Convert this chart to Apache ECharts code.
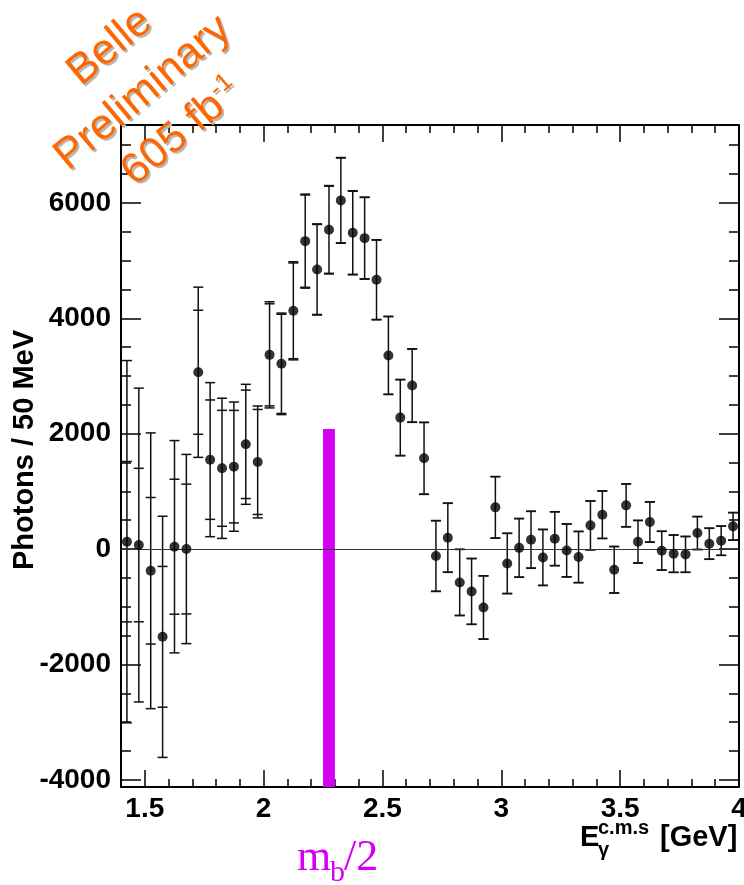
<!DOCTYPE html>
<html>
<head>
<meta charset="utf-8">
<script src="https://cdn.jsdelivr.net/npm/echarts@6.0.0/dist/echarts.min.js"></script>
<style>
  html, body { margin: 0; padding: 0; background: #fff; }
  #chart { width: 744px; height: 885px; }
</style>
</head>
<body>
<div id="chart"></div>
<script>
// bin centres, 50 MeV bins
const energy = [1.425, 1.475, 1.525, 1.575, 1.625, 1.675, 1.725, 1.775, 1.825, 1.875, 1.925, 1.975,
  2.025, 2.075, 2.125, 2.175, 2.225, 2.275, 2.325, 2.375, 2.425, 2.475, 2.525, 2.575, 2.625, 2.675,
  2.725, 2.775, 2.825, 2.875, 2.925, 2.975, 3.025, 3.075, 3.125, 3.175, 3.225, 3.275, 3.325, 3.375,
  3.425, 3.475, 3.525, 3.575, 3.625, 3.675, 3.725, 3.775, 3.825, 3.875, 3.925, 3.975];
const photons = [127, 69, -377, -1522, 40, 0, 3064, 1549, 1399, 1428, 1815, 1509,
  3366, 3210, 4129, 5337, 4846, 5534, 6043, 5482, 5389, 4667, 3356, 2278, 2833, 1572,
  -121, 196, -579, -735, -1013, 722, -250, 20, 161, -146, 179, -24, -139, 410,
  595, -359, 757, 127, 468, -29, -81, -93, 277, 92, 144, 393];
const errTotal = [3140, 2720, 2390, 2090, 1840, 1640, 1475, 1335, 1215, 1120, 1040, 970,
  920, 880, 850, 815, 790, 766, 743, 729, 711, 694, 678, 662, 637, 625,
  615, 600, 575, 572, 550, 535, 524, 510, 495, 487, 468, 460, 445, 425,
  413, 404, 373, 370, 350, 338, 325, 312, 287, 270, 255, 240];
const errStat = [1390, 1330, 1270, 1220, 1170, 1125, 1075, 1035, 1005, 975, 940, 910,
  885, 860, 830, 800, 780, 755, 735, 720, 705, 688, 672, 656, 632, 620,
  610, 596, 571, 569, 546, 531, 520, 506, 491, 483, 465, 457, 442, 422,
  410, 401, 370, 367, 347, 335, 322, 309, 284, 267, 252, 237];

const xMajorTicks = [1.5, 2, 2.5, 3, 3.5, 4];
const xMinorTicks = [1.4, 1.5, 1.6, 1.7, 1.8, 1.9, 2.0, 2.1, 2.2, 2.3, 2.4, 2.5, 2.6, 2.7,
  2.8, 2.9, 3.0, 3.1, 3.2, 3.3, 3.4, 3.5, 3.6, 3.7, 3.8, 3.9, 4.0];
const yMajorTicks = [-4000, -2000, 0, 2000, 4000, 6000];
const yMinorTicks = [-4000, -3500, -3000, -2500, -2000, -1500, -1000, -500, 0, 500, 1000, 1500,
  2000, 2500, 3000, 3500, 4000, 4500, 5000, 5500, 6000, 6500, 7000];

// m_b/2 marker bin
const mbBin = [2.25, 2.30];
const mbHeight = 2080;

const X_MIN = 1.4, X_MAX = 4.0;
const Y_MIN = -4125, Y_MAX = 7350;

const SANS = '"Liberation Sans", Arial, Helvetica, sans-serif';
const SERIF = '"Liberation Serif", "Times New Roman", serif';
const ORANGE = '#ff6600';
const MAGENTA = '#d400f2';

const points = energy.map((e, i) => [e, photons[i], errStat[i], errTotal[i]]);

function xAxisDef(pos, ticks, len, withLabels, withLine) {
  return {
    type: 'value', position: pos, offset: 0, min: X_MIN, max: X_MAX,
    axisLine: { show: withLine, onZero: false, lineStyle: { color: '#000', width: 2 } },
    axisTick: { show: true, inside: true, length: len, customValues: ticks,
      lineStyle: { color: '#000', width: 1.5 } },
    axisLabel: { show: withLabels, customValues: xMajorTicks, margin: 8, color: '#000',
      fontFamily: SANS, fontWeight: 'bold', fontSize: 28, hideOverlap: false,
      formatter: v => String(v) },
    splitLine: { show: false }
  };
}
function yAxisDef(pos, ticks, len, withLabels, withLine) {
  return {
    type: 'value', position: pos, offset: 0, min: Y_MIN, max: Y_MAX,
    axisLine: { show: withLine, onZero: false, lineStyle: { color: '#000', width: 2 } },
    axisTick: { show: true, inside: true, length: len, customValues: ticks,
      lineStyle: { color: '#000', width: 1.5 } },
    axisLabel: { show: withLabels, customValues: yMajorTicks, margin: 10, color: '#000',
      fontFamily: SANS, fontWeight: 'bold', fontSize: 28, hideOverlap: false,
      formatter: v => String(v) },
    splitLine: { show: false }
  };
}

// belle label, drawn twice for the grey shadow
function belleText(txt, cx, cy) {
  const rot = 40 * Math.PI / 180;
  const rich = {
    n: { fontSize: 43, fontFamily: SANS, lineHeight: 46 },
    s: { fontSize: 25, fontFamily: SANS, verticalAlign: 'top', lineHeight: 46 }
  };
  return [
    { type: 'text', x: cx + 2, y: cy + 2, rotation: rot, z: 50,
      style: { text: txt, rich: rich, fill: '#b8b8b8', align: 'center', verticalAlign: 'middle' } },
    { type: 'text', x: cx, y: cy, rotation: rot, z: 51,
      style: { text: txt, rich: rich, fill: ORANGE, align: 'center', verticalAlign: 'middle' } }
  ];
}

const chart = echarts.init(document.getElementById('chart'), null, { renderer: 'canvas' });

const option = {
  animation: false,
  backgroundColor: '#fff',
  grid: { left: 121, right: 5, top: 125, bottom: 98, outerBoundsMode: 'none', containLabel: false },
  xAxis: [
    xAxisDef('bottom', xMajorTicks, 17, true, true),
    xAxisDef('bottom', xMinorTicks, 8, false, false),
    xAxisDef('top', xMajorTicks, 17, false, true),
    xAxisDef('top', xMinorTicks, 8, false, false)
  ],
  yAxis: [
    yAxisDef('left', yMajorTicks, 20, true, true),
    yAxisDef('left', yMinorTicks, 10, false, false),
    yAxisDef('right', yMajorTicks, 20, false, true),
    yAxisDef('right', yMinorTicks, 10, false, false)
  ],
  series: [
    {
      // m_b/2 bar
      type: 'custom',
      z: 3,
      data: [[mbBin[0], mbBin[1], mbHeight]],
      encode: { x: [0, 1], y: 2 },
      renderItem: function (params, api) {
        const p0 = api.coord([api.value(0), api.value(2)]);
        const p1 = api.coord([api.value(1), Y_MIN]);
        return {
          type: 'rect',
          shape: { x: p0[0], y: p0[1], width: p1[0] - p0[0], height: p1[1] - p0[1] },
          style: { fill: MAGENTA }
        };
      }
    },
    {
      // error bars: total and statistical, with caps
      type: 'custom',
      z: 4,
      data: points,
      encode: { x: 0, y: 1 },
      renderItem: function (params, api) {
        const x = api.value(0), y = api.value(1);
        const st = api.value(2), tt = api.value(3);
        const tTop = api.coord([x, y + tt]), tBot = api.coord([x, y - tt]);
        const sTop = api.coord([x, y + st]), sBot = api.coord([x, y - st]);
        const hw = 5;
        const style = { stroke: '#111', lineWidth: 1.5 };
        const cap = (p) => ({ type: 'line', shape: { x1: p[0] - hw, y1: p[1], x2: p[0] + hw, y2: p[1] }, style: style });
        return {
          type: 'group',
          children: [
            { type: 'line', shape: { x1: tTop[0], y1: tTop[1], x2: tBot[0], y2: tBot[1] }, style: style },
            cap(tTop), cap(tBot), cap(sTop), cap(sBot)
          ]
        };
      }
    },
    {
      type: 'scatter',
      z: 5,
      symbol: 'circle',
      symbolSize: 10,
      itemStyle: { color: '#000' },
      data: points.map(p => [p[0], p[1]]),
      markLine: {
        silent: true,
        symbol: 'none',
        label: { show: false },
        lineStyle: { color: '#333', width: 1, type: 'solid' },
        data: [{ yAxis: 0 }]
      }
    }
  ],
  graphic: [
    ...belleText('{n|Belle}', 110, 47),
    ...belleText('{n|Preliminary}', 143, 93),
    ...belleText('{n|605 fb}{s|-1}', 182, 132),
    {
      type: 'text', x: 25, y: 450, rotation: Math.PI / 2,
      style: { text: 'Photons / 50 MeV', fill: '#000', font: 'bold 29px ' + SANS,
        align: 'center', verticalAlign: 'middle' }
    },
    // x axis title E_gamma^{c.m.s} [GeV]
    { type: 'text', x: 580, y: 838,
      style: { text: 'E', fill: '#000', font: 'bold 29px ' + SANS, align: 'left', verticalAlign: 'middle' } },
    { type: 'text', x: 598, y: 828,
      style: { text: 'c.m.s', fill: '#000', font: 'bold 20px ' + SANS, align: 'left', verticalAlign: 'middle' } },
    { type: 'text', x: 598, y: 850,
      style: { text: 'γ', fill: '#000', font: 'bold 20px ' + SANS, align: 'left', verticalAlign: 'middle' } },
    { type: 'text', x: 660, y: 838,
      style: { text: '[GeV]', fill: '#000', font: 'bold 29px ' + SANS, align: 'left', verticalAlign: 'middle' } },
    // m_b/2 label
    { type: 'text', x: 297, y: 858,
      style: { text: 'm', fill: MAGENTA, font: '44px ' + SERIF, align: 'left', verticalAlign: 'middle' } },
    { type: 'text', x: 330, y: 873,
      style: { text: 'b', fill: MAGENTA, font: '30px ' + SERIF, align: 'left', verticalAlign: 'middle' } },
    { type: 'text', x: 344, y: 858,
      style: { text: '/2', fill: MAGENTA, font: '44px ' + SERIF, align: 'left', verticalAlign: 'middle' } }
  ]
};

chart.setOption(option);
</script>
</body>
</html>
